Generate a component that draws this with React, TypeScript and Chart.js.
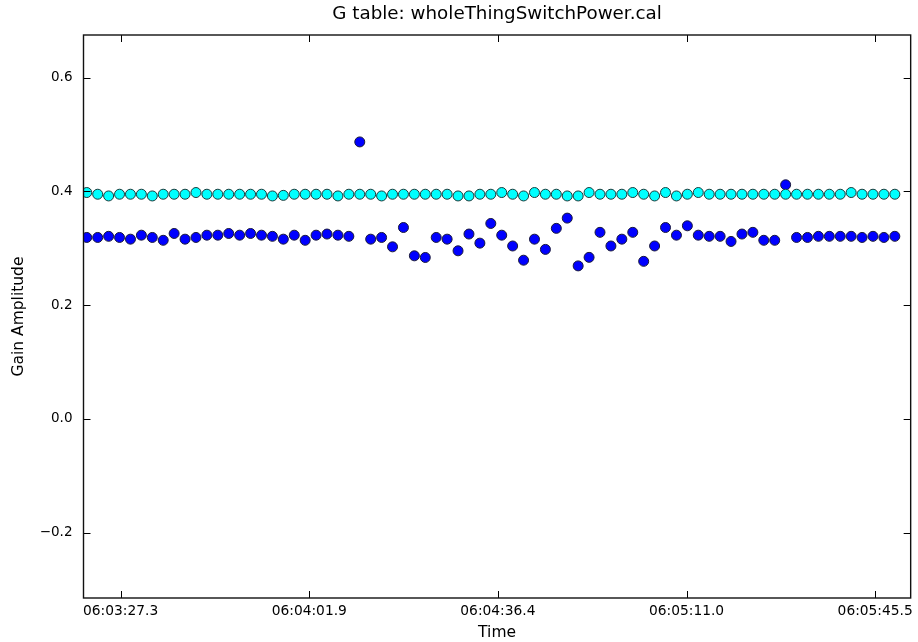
import React, { useEffect, useRef } from "react";
import { Chart, registerables } from "chart.js";

Chart.register(...registerables);

// seconds after 06:03:00
const TIMES = [
  21.1, 23.1, 25.1, 27.1, 29.1, 31.1, 33.1, 35.1, 37.1, 39.1, 41.1, 43.1, 45.1, 47.1, 49.1,
  51.1, 53.1, 55.1, 57.1, 59.1, 61.1, 63.1, 65.1, 67.1, 69.1, 71.1, 73.1, 75.1, 77.1, 79.1,
  81.1, 83.1, 85.1, 87.1, 89.1, 91.1, 93.1, 95.1, 97.1, 99.1, 101.1, 103.1, 105.1, 107.1, 109.1,
  111.1, 113.1, 115.1, 117.1, 119.1, 121.1, 123.1, 125.1, 127.1, 129.1, 131.1, 133.1, 135.1, 137.1, 139.1,
  141.1, 143.1, 145.1, 147.1, 149.1, 151.1, 153.1, 155.1, 157.1, 159.1, 161.1, 163.1, 165.1, 167.1, 169.1,
];

const CYAN_AMP = [
  0.398, 0.395, 0.392, 0.395, 0.395, 0.395, 0.392, 0.395, 0.395, 0.395, 0.398, 0.395, 0.395, 0.395, 0.395,
  0.395, 0.395, 0.392, 0.393, 0.395, 0.395, 0.395, 0.395, 0.392, 0.395, 0.395, 0.395, 0.392, 0.395, 0.395,
  0.395, 0.395, 0.395, 0.395, 0.392, 0.392, 0.395, 0.395, 0.398, 0.395, 0.392, 0.398, 0.395, 0.395, 0.392,
  0.392, 0.398, 0.395, 0.395, 0.395, 0.398, 0.395, 0.392, 0.398, 0.392, 0.395, 0.398, 0.395, 0.395, 0.395,
  0.395, 0.395, 0.395, 0.395, 0.395, 0.395, 0.395, 0.395, 0.395, 0.395, 0.398, 0.395, 0.395, 0.395, 0.395,
];

const BLUE_AMP = [
  0.319, 0.319, 0.321, 0.319, 0.316, 0.323, 0.319, 0.314, 0.326, 0.316, 0.319, 0.323, 0.323, 0.326, 0.323,
  0.326, 0.323, 0.321, 0.316, 0.323, 0.314, 0.323, 0.325, 0.323, 0.321, 0.487, 0.316, 0.319, 0.3025, 0.3365,
  0.2867, 0.2838, 0.319, 0.316, 0.2955, 0.325, 0.309, 0.3436, 0.323, 0.304, 0.279, 0.316, 0.298, 0.335, 0.353,
  0.269, 0.284, 0.328, 0.304, 0.316, 0.328, 0.277, 0.304, 0.3365, 0.323, 0.3395, 0.323, 0.321, 0.321, 0.312,
  0.325, 0.328, 0.314, 0.314, 0.4116, 0.319, 0.319, 0.321, 0.321, 0.321, 0.321, 0.319, 0.321, 0.319, 0.321,
];

const X_TICKS = [27.3, 61.85, 96.4, 130.95, 165.5];
const X_TICK_LABELS = ["06:03:27.3", "06:04:01.9", "06:04:36.4", "06:05:11.0", "06:05:45.5"];
const Y_TICKS = [-0.2, 0.0, 0.2, 0.4, 0.6];
const Y_TICK_LABELS = ["\u22120.2", "0.0", "0.2", "0.4", "0.6"];
const TITLE = "G table: wholeThingSwitchPower.cal";

const FONT = "'DejaVu Sans', sans-serif";

const frame = {
  id: "frame",
  afterDraw(chart: any) {
    const { ctx, chartArea } = chart;
    const { left, right, top, bottom } = chartArea;
    const xs = chart.scales.x;
    const ys = chart.scales.y;
    ctx.save();
    ctx.strokeStyle = "#000";
    ctx.lineWidth = 1;
    ctx.beginPath();
    const L = 7;
    X_TICKS.forEach((v) => {
      const px = Math.round(xs.getPixelForValue(v)) + 0.5;
      ctx.moveTo(px, bottom);
      ctx.lineTo(px, bottom - L);
      ctx.moveTo(px, top);
      ctx.lineTo(px, top + L);
    });
    Y_TICKS.forEach((v) => {
      const py = Math.round(ys.getPixelForValue(v)) + 0.5;
      ctx.moveTo(left, py);
      ctx.lineTo(left + L, py);
      ctx.moveTo(right, py);
      ctx.lineTo(right - L, py);
    });
    ctx.stroke();
    ctx.lineWidth = 1.4;
    ctx.strokeStyle = "#111";
    ctx.strokeRect(left, top, right - left, bottom - top);
    // title centred over the plot area
    ctx.fillStyle = "#000";
    ctx.font = `normal 18.3px ${FONT}`;
    ctx.textAlign = "center";
    ctx.textBaseline = "middle";
    ctx.fillText(TITLE, (left + right) / 2, 14.5);
    ctx.restore();
  },
};

export default function App() {
  const ref = useRef<HTMLCanvasElement>(null);
  useEffect(() => {
    if (!ref.current) return;
    const chart = new Chart(ref.current, {
      type: "scatter",
      data: {
        datasets: [
          {
            label: "cyan",
            data: TIMES.map((t, i) => ({ x: t, y: CYAN_AMP[i] })),
            backgroundColor: "#00ffff",
            borderColor: "#1a3a3a",
            borderWidth: 1,
            pointRadius: 5,
            clip: 0,
          },
          {
            label: "blue",
            data: TIMES.map((t, i) => ({ x: t, y: BLUE_AMP[i] })),
            backgroundColor: "#0000ff",
            borderColor: "#1a1a3a",
            borderWidth: 1,
            pointRadius: 5,
            clip: 0,
          },
        ],
      },
      options: {
        animation: false,
        responsive: false,
        events: [],
        layout: { padding: { left: 0, right: 4.5, top: 35, bottom: 0 } },
        plugins: {
          legend: { display: false },
          tooltip: { enabled: false },
          title: { display: false },
        },
        scales: {
          x: {
            type: "linear",
            min: 20.5,
            max: 172.0,
            grid: { display: false, drawTicks: false },
            border: { display: false },
            afterBuildTicks: (scale: any) => {
              scale.ticks = X_TICKS.map((v) => ({ value: v }));
            },
            afterFit: (scale: any) => {
              scale.height = 44;
            },
            ticks: {
              autoSkip: false,
              maxRotation: 0,
              color: "#000",
              padding: 5,
              font: { family: FONT, size: 13.8 },
              callback: (_v: any, i: number) => X_TICK_LABELS[i],
            },
            title: {
              display: true,
              text: "Time",
              color: "#000",
              font: { family: FONT, size: 15.5 },
              padding: { top: 0, bottom: 0 },
            },
          },
          y: {
            type: "linear",
            min: -0.315,
            max: 0.675,
            grid: { display: false, drawTicks: false },
            border: { display: false },
            afterBuildTicks: (scale: any) => {
              scale.ticks = Y_TICKS.map((v) => ({ value: v }));
            },
            afterFit: (scale: any) => {
              scale.width = 83.5;
            },
            ticks: {
              autoSkip: false,
              color: "#000",
              padding: 11,
              font: { family: FONT, size: 13.5 },
              callback: (_v: any, i: number) => Y_TICK_LABELS[i],
            },
            title: {
              display: true,
              text: "Gain Amplitude",
              color: "#000",
              font: { family: FONT, size: 15.5 },
              padding: { top: 9.7, bottom: 0 },
            },
          },
        },
      },
      plugins: [frame],
    });
    return () => chart.destroy();
  }, []);
  return (
    <div style={{ position: "absolute", left: 0, top: 0, width: 918, height: 642, background: "#fff" }}>
      <canvas ref={ref} width={918} height={642} style={{ display: "block", width: 918, height: 642 }} />
    </div>
  );
}
